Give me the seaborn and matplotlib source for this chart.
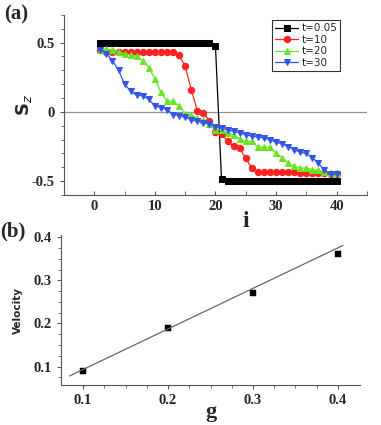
import numpy as np
import pandas as pd
import seaborn as sns
import matplotlib.pyplot as plt

sns.set_style('ticks')
plt.rcParams['font.family'] = ['Liberation Serif', 'DejaVu Serif']

# panel (a): S_z profile along the chain
site = list(range(1, 41))
sz_t005 = [0.5]*19 + [0.475, -0.485] + [-0.5]*19
sz_t10 = [0.447, 0.435, 0.435, 0.435, 0.435, 0.435, 0.435, 0.435, 0.435, 0.435,
          0.435, 0.435, 0.435, 0.408, 0.33, 0.16, 0.01, -0.007, -0.063, -0.148,
          -0.157, -0.213, -0.249, -0.262, -0.336, -0.404, -0.43, -0.437, -0.437, -0.437,
          -0.437, -0.437, -0.437, -0.44, -0.44, -0.44, -0.44, -0.442, -0.445, -0.445]
sz_t20 = [0.447, 0.453, 0.445, 0.43, 0.42, 0.41, 0.40, 0.37, 0.32, 0.24,
          0.14, 0.077, 0.077, 0.04, -0.012, -0.02, -0.044, -0.06, -0.085, -0.128,
          -0.133, -0.152, -0.164, -0.196, -0.213, -0.213, -0.252, -0.255, -0.255, -0.297,
          -0.33, -0.368, -0.392, -0.405, -0.405, -0.418, -0.42, -0.435, -0.44, -0.44]
sz_t30 = [0.45, 0.42, 0.37, 0.30, 0.20, 0.15, 0.12, 0.117, 0.09, 0.043,
          0.03, 0.017, -0.019, -0.026, -0.036, -0.056, -0.063, -0.08, -0.085, -0.109,
          -0.113, -0.133, -0.14, -0.152, -0.164, -0.176, -0.18, -0.188, -0.2, -0.22,
          -0.23, -0.25, -0.273, -0.29, -0.3, -0.33, -0.37, -0.42, -0.45, -0.45]
labels_a = ['t=0.05', 't=10', 't=20', 't=30']

# panel (b): velocity vs g
g_vals = [0.1, 0.2, 0.3, 0.4]
velocity = [0.09, 0.19, 0.27, 0.36]
fit_g = [0.084, 0.406]
fit_v = [0.078, 0.381]

fig = plt.figure(figsize=(3.81, 4.25), dpi=100)
ax1 = fig.add_axes([0.168, 0.541, 0.795, 0.424])
ax2 = fig.add_axes([0.160, 0.094, 0.785, 0.353])

styles = [('k', 's', 3.8), ('#ff2222', 'o', 4.6), ('#66e622', '^', 5.0), ('#3355ee', 'v', 5.0)]
ax1.axhline(0, color='#909090', lw=0.9, zorder=0)
for vals, lab, (c, m, ms) in zip([sz_t005, sz_t10, sz_t20, sz_t30], labels_a, styles):
    sns.lineplot(x=site, y=vals, ax=ax1, color=c, marker=m, markersize=ms,
                 markeredgecolor=c, lw=0.9, label=lab)

ax1.set_xlim(-5, 45)
ax1.set_ylim(-0.6, 0.7)
ax1.set_xticks([0, 10, 20, 30, 40])
ax1.set_xticks([-5, 5, 15, 25, 35, 45], minor=True)
ax1.set_yticks([-0.5, 0, 0.5])
ax1.set_yticklabels(['-0.5', '0', '0.5'])
ax1.set_yticks(np.arange(-0.6, 0.71, 0.1), minor=True)
ax1.tick_params(axis='x', which='both', direction='in', length=3, color='#555555')
ax1.tick_params(axis='y', which='major', direction='out', length=3, color='#555555')
ax1.tick_params(axis='y', which='minor', direction='out', length=2, color='#555555')
ax1.tick_params(labelsize=10.5)
for t in ax1.get_xticklabels() + ax1.get_yticklabels():
    t.set_fontweight('bold')
for s in ['top', 'right']:
    ax1.spines[s].set_visible(False)
for s in ['left', 'bottom']:
    ax1.spines[s].set_color('#555555')
ax1.set_xlabel('i', fontsize=17, fontweight='bold', labelpad=0)
ax1.xaxis.set_label_coords(0.6, -0.09)
ax1.set_ylabel('S$_z$', fontsize=13, fontweight='bold', family='DejaVu Sans')
ax1.yaxis.set_label_coords(-0.1, 0.5)
leg = ax1.legend(loc='upper right', bbox_to_anchor=(0.93, 1.0),
                 frameon=True, fancybox=False, handlelength=2.2, handletextpad=0.3,
                 borderpad=0.3, labelspacing=0.15, prop={'family': 'DejaVu Sans', 'size': 7.5})
leg.get_frame().set_edgecolor('k')
leg.get_frame().set_linewidth(0.8)

sns.lineplot(x=fit_g, y=fit_v, ax=ax2, color='#666666', lw=0.9)
sns.scatterplot(x=g_vals, y=velocity, ax=ax2, color='k', marker='s', s=16, edgecolor='k')
ax2.set_xlim(0.074, 0.426)
ax2.set_ylim(0.057, 0.405)
ax2.set_xticks([0.1, 0.2, 0.3, 0.4])
ax2.set_xticks([0.125, 0.15, 0.175, 0.225, 0.25, 0.275, 0.325, 0.35, 0.375], minor=True)
ax2.set_yticks([0.1, 0.2, 0.3, 0.4])
ax2.set_yticks([0.075, 0.125, 0.15, 0.175, 0.225, 0.25, 0.275, 0.325, 0.35, 0.375], minor=True)
ax2.tick_params(which='major', direction='out', length=3, color='#555555', labelsize=10.5)
ax2.tick_params(which='minor', direction='out', length=2, color='#555555')
for t in ax2.get_xticklabels() + ax2.get_yticklabels():
    t.set_fontweight('bold')
for s in ['top', 'right']:
    ax2.spines[s].set_visible(False)
for s in ['left', 'bottom']:
    ax2.spines[s].set_color('#555555')
ax2.set_xlabel('g', fontsize=16, fontweight='bold', labelpad=-4)
ax2.set_ylabel('Velocity', fontsize=7.5, fontweight='bold', family='DejaVu Sans', labelpad=8)

fig.text(0.01, 0.965, '(a)', fontsize=15, fontweight='bold', va='center')
fig.text(0.0, 0.455, '(b)', fontsize=15, fontweight='bold', va='center')

fig.savefig('out.png', dpi=100)
